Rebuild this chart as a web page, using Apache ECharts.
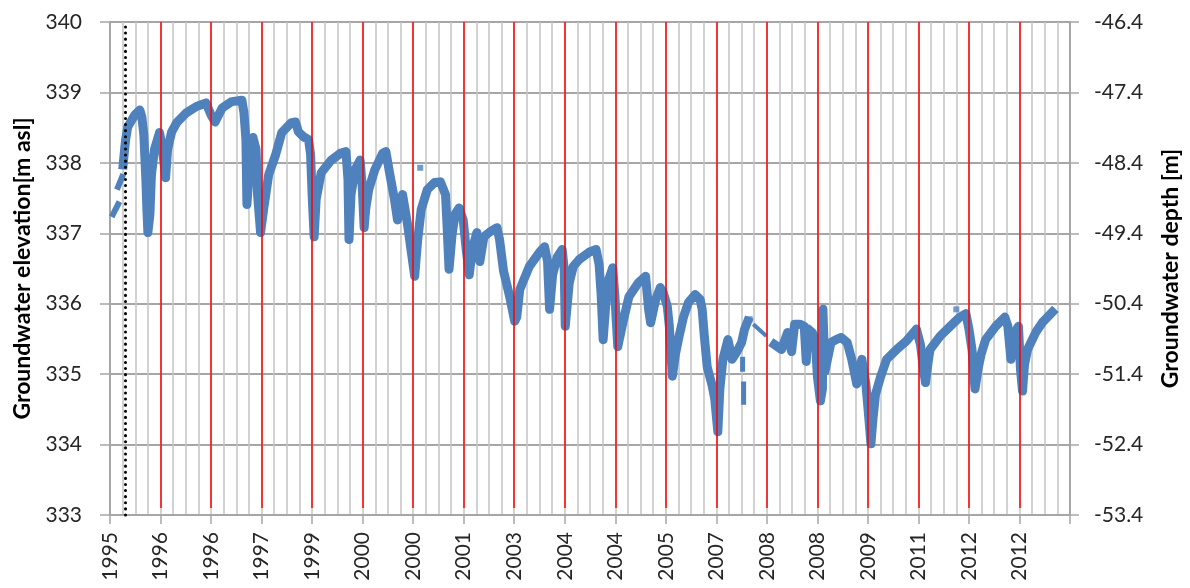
<!DOCTYPE html>
<html>
<head>
<meta charset="utf-8">
<script src="https://cdn.jsdelivr.net/npm/echarts@6/dist/echarts.min.js"></script>
<style>html,body{margin:0;padding:0;background:#fff}#c{width:1190px;height:588px}</style>
</head>
<body>
<div id="c"></div>
<script>
// Tick labels of the x axis (one per major tick, Excel-style category positions)
const tickLabels = ['1995','1996','1996','1997','1999','2000','2000','2001','2003','2004','2004','2005','2007','2008','2008','2009','2011','2012','2012',''];
// Red year marker lines (major tick positions)
const redMarks = [1,2,3,4,5,6,7,8,9,10,11,12,13,14,15,16,17,18];
// Black dotted line position
const dottedMark = 0.30;
// Groundwater elevation [m asl], segments separated by gaps
const earlyDash1 = [[0.06,337.27],[0.16,337.41]];
const earlyDash2 = [[0.16,337.66],[0.24,337.80]];
const mainPart = [[0.26,337.97],[0.29,338.20],[0.31,338.33],[0.35,338.51],[0.49,338.68],[0.59,338.75],[0.63,338.65],[0.67,338.40],[0.71,337.76],[0.73,337.34],[0.75,337.01],[0.79,337.27],[0.82,337.83],[0.88,338.19],[0.98,338.43],[1.04,338.19],[1.10,337.79],[1.14,338.19],[1.22,338.44],[1.32,338.57],[1.51,338.71],[1.71,338.80],[1.90,338.85],[2.00,338.68],[2.08,338.58],[2.22,338.78],[2.41,338.87],[2.61,338.89],[2.65,338.72],[2.69,338.33],[2.71,337.41],[2.75,337.83],[2.83,338.36],[2.89,338.19],[2.92,337.55],[2.98,337.01],[3.04,337.34],[3.14,337.83],[3.28,338.12],[3.40,338.43],[3.59,338.57],[3.67,338.58],[3.73,338.44],[3.83,338.37],[3.93,338.33],[3.97,338.12],[4.00,337.55],[4.04,336.95],[4.08,337.48],[4.18,337.86],[4.38,338.04],[4.57,338.14],[4.67,338.16],[4.71,337.76],[4.73,336.91],[4.77,337.55],[4.85,337.90],[4.95,338.04],[4.99,337.69],[5.03,337.08],[5.06,337.34],[5.12,337.62],[5.24,337.90],[5.40,338.14],[5.46,338.16],[5.54,337.83],[5.63,337.48],[5.69,337.19],[5.79,337.55],[5.89,337.12],[5.97,336.70],[6.03,336.39],[6.09,336.91],[6.16,337.34],[6.28,337.62],[6.42,337.72],[6.54,337.73],[6.64,337.55],[6.67,337.12],[6.71,336.49],[6.77,336.98],[6.83,337.27],[6.91,337.36],[6.99,337.19],[7.05,336.77],[7.11,336.41],[7.17,336.77],[7.26,337.01],[7.32,336.60],[7.40,336.95],[7.52,337.02],[7.66,337.08],[7.71,336.91],[7.79,336.46],[7.91,336.10],[8.01,335.75],[8.05,335.81],[8.11,336.20],[8.30,336.53],[8.50,336.73],[8.60,336.81],[8.66,336.60],[8.70,335.92],[8.76,336.41],[8.85,336.66],[8.95,336.77],[8.99,336.49],[9.01,335.68],[9.09,336.30],[9.17,336.53],[9.29,336.63],[9.48,336.73],[9.62,336.77],[9.68,336.56],[9.72,336.13],[9.76,335.49],[9.82,336.06],[9.87,336.34],[9.95,336.51],[9.99,336.13],[10.05,335.39],[10.15,335.73],[10.27,336.10],[10.46,336.30],[10.60,336.39],[10.66,335.92],[10.70,335.73],[10.80,336.06],[10.89,336.23],[10.95,336.16],[11.03,335.96],[11.07,335.68],[11.13,334.97],[11.19,335.28],[11.27,335.56],[11.35,335.81],[11.45,336.02],[11.58,336.13],[11.68,336.06],[11.72,335.92],[11.76,335.56],[11.82,335.10],[11.92,334.83],[11.97,334.64],[12.03,334.18],[12.07,334.79],[12.13,335.21],[12.23,335.49],[12.31,335.21],[12.41,335.32],[12.50,335.45],[12.56,335.64],[12.62,335.75]];
const dash2007a = [[12.52,335.21],[12.52,335.07]];
const dash2007b = [[12.54,334.86],[12.54,334.60]];
const diag2008 = [[12.76,335.69],[12.96,335.56]];
const latePart = [[13.15,335.42],[13.29,335.35],[13.41,335.59],[13.49,335.32],[13.55,335.71],[13.66,335.71],[13.74,335.68],[13.78,335.18],[13.82,335.64],[13.90,335.59],[13.96,335.49],[14.00,334.97],[14.06,334.62],[14.10,334.79],[14.11,335.92],[14.15,335.04],[14.20,335.21],[14.27,335.45],[14.37,335.49],[14.47,335.52],[14.59,335.45],[14.68,335.21],[14.78,334.86],[14.88,335.21],[14.96,334.86],[15.02,334.36],[15.06,334.01],[15.10,334.36],[15.15,334.71],[15.25,334.96],[15.37,335.21],[15.57,335.35],[15.76,335.47],[15.96,335.64],[16.04,335.42],[16.10,335.07],[16.14,334.88],[16.20,335.21],[16.23,335.35],[16.43,335.54],[16.63,335.68],[16.82,335.81],[16.94,335.86],[17.00,335.64],[17.06,335.35],[17.12,334.79],[17.18,335.07],[17.24,335.28],[17.33,335.49],[17.53,335.68],[17.71,335.81],[17.77,335.68],[17.83,335.21],[17.88,335.56],[17.98,335.68],[18.02,335.07],[18.06,334.76],[18.10,335.14],[18.16,335.35],[18.32,335.59],[18.45,335.73],[18.65,335.88]];
const singlePoints = [[6.14,337.93],[12.66,335.78],[16.75,335.92]];

const BLUE = '#4F81BD';
const FONT = 'Lato';
const chart = echarts.init(document.getElementById('c'), null, {renderer:'canvas'});

function seg(data, w) {
  return {type:'line', xAxisIndex:0, yAxisIndex:0, data:data, showSymbol:false, symbol:'none',
    lineStyle:{color:BLUE, width:w, cap:'square', join:'round'}, z:3, animation:false, silent:true};
}

const series = [
  seg(earlyDash1, 6), seg(earlyDash2, 6), seg(mainPart, 9), seg(dash2007a, 5), seg(dash2007b, 5),
  seg(diag2008, 4), seg(latePart, 9),
  {type:'scatter', data:singlePoints, symbol:'rect', symbolSize:6, itemStyle:{color:BLUE}, z:3, animation:false, silent:true},
  {type:'line', data:[], z:5, animation:false, silent:true,
    markLine:{symbol:'none', silent:true, animation:false, label:{show:false},
      lineStyle:{color:'#FF0000', width:1.5, type:'solid'},
      data: redMarks.map(v => [{coord:[v,333.1]},{coord:[v,340]}])}},
  {type:'line', data:[], z:6, animation:false, silent:true,
    markLine:{symbol:'none', silent:true, animation:false, label:{show:false},
      lineStyle:{color:'#000000', width:3, type:[0.1,6], cap:'round'},
      data: [[{coord:[dottedMark,333]},{coord:[dottedMark,340]}]]}}
];

chart.setOption({
  animation:false,
  backgroundColor:'#ffffff',
  grid:{left:110, right:113, top:22, bottom:73, containLabel:false},
  xAxis:{type:'value', min:0, max:19, interval:1,
    axisLine:{show:true, lineStyle:{color:'#A6A6A6', width:2}},
    axisTick:{show:true, length:9, lineStyle:{color:'#A6A6A6', width:1.5}},
    axisLabel:{show:true, rotate:90, margin:17, fontFamily:FONT, fontSize:21, color:'#262626',
      showMinLabel:true, showMaxLabel:true,
      formatter:v => tickLabels[Math.round(v)] || ''},
    splitLine:{show:true, lineStyle:{color:'#C4C4C4', width:1.5}},
    minorTick:{show:false, splitNumber:4},
    minorSplitLine:{show:true, lineStyle:{color:'#C4C4C4', width:1.5}}
  },
  yAxis:[
    {type:'value', min:333, max:340, interval:1, position:'left',
      name:'Groundwater elevation[m asl]', nameLocation:'middle', nameGap:76, nameRotate:90,
      nameTextStyle:{fontFamily:FONT, fontSize:23, fontWeight:'bold', color:'#000'},
      axisLine:{show:true, lineStyle:{color:'#A6A6A6', width:2}},
      axisTick:{show:true, length:10, lineStyle:{color:'#A6A6A6', width:1.5}},
      axisLabel:{fontFamily:FONT, fontSize:21, color:'#262626', margin:28},
      splitLine:{show:true, lineStyle:{color:'#A6A6A6', width:2}}},
    {type:'value', min:-53.4, max:-46.4, interval:1, position:'right',
      name:'Groundwater depth [m]', nameLocation:'middle', nameGap:89, nameRotate:90,
      nameTextStyle:{fontFamily:FONT, fontSize:23, fontWeight:'bold', color:'#000'},
      axisLine:{show:true, lineStyle:{color:'#A6A6A6', width:2}},
      axisTick:{show:true, length:9, lineStyle:{color:'#A6A6A6', width:1.5}},
      axisLabel:{fontFamily:FONT, fontSize:21, color:'#262626', margin:24, formatter:v => v.toFixed(1)},
      splitLine:{show:false}}
  ],
  series:series
});
</script>
</body>
</html>
